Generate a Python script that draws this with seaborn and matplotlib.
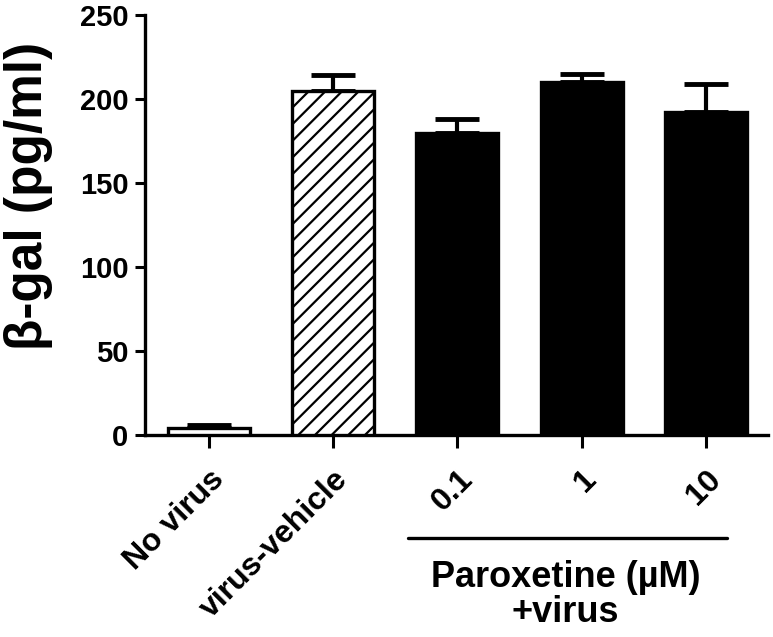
import numpy as np
import pandas as pd
import matplotlib
matplotlib.use("Agg")
import matplotlib.pyplot as plt
import seaborn as sns

# ---------------------------------------------------------------------------
# Data
# ---------------------------------------------------------------------------
groups = ["No virus", "virus-vehicle", "0.1", "1", "10"]
means = [4, 205, 180, 210, 192]
sems = [2, 9, 8, 5, 17]
fills = ["white", "white", "black", "black", "black"]
hatches = ["", "//", "", "", ""]

df = pd.DataFrame({"group": groups, "beta_gal": means})

# ---------------------------------------------------------------------------
# Style
# ---------------------------------------------------------------------------
sns.set_style("ticks")
plt.rcParams["font.family"] = ["Liberation Sans", "DejaVu Sans"]
plt.rcParams["font.weight"] = "bold"
plt.rcParams["hatch.linewidth"] = 1.6
plt.rcParams["text.color"] = "black"
plt.rcParams["axes.labelcolor"] = "black"
plt.rcParams["xtick.color"] = "black"
plt.rcParams["ytick.color"] = "black"

fig = plt.figure(figsize=(7.73, 6.37), dpi=100)
ax = fig.add_axes([0.1876, 0.317, 0.806, 0.6595])

sns.barplot(data=df, x="group", y="beta_gal", hue="group",
            palette=dict(zip(groups, fills)), legend=False,
            width=0.66, edgecolor="black", linewidth=2.4,
            errorbar=None, ax=ax, zorder=3)

for bar, h in zip(ax.patches, hatches):
    bar.set_hatch(h)

# upward-only error bars (SEM), drawn under the bars
xpos = np.arange(len(groups))
ax.errorbar(xpos, means, yerr=[np.zeros(len(sems)), sems], fmt="none",
            ecolor="black", elinewidth=3, capsize=16, capthick=3.5, zorder=2)

ax.set_xlim(-0.515, 4.5)
ax.set_ylim(0, 250)
ax.set_yticks([0, 50, 100, 150, 200, 250])
ax.set_xlabel("")
ax.set_ylabel("β-gal (pg/ml)", fontsize=37, fontweight="bold")
ax.yaxis.set_label_coords(-0.148, 0.57)

ax.tick_params(axis="y", labelsize=21, width=2.2, length=7, pad=5)
ax.tick_params(axis="x", labelsize=23, width=2.2, length=9, pad=12)
for lab in ax.get_yticklabels():
    lab.set_fontweight("bold")
ax.set_xticks(xpos)
ax.set_xticklabels(groups, rotation=45, ha="right", rotation_mode="anchor",
                   fontweight="bold")

for side in ["left", "bottom"]:
    ax.spines[side].set_linewidth(2.4)
    ax.spines[side].set_color("black")
sns.despine(ax=ax)

# bracket label under the paroxetine groups
ax.plot([1.6, 4.17], [-61.5, -61.5], color="black", lw=2.4, clip_on=False)
ax.text(2.87, -95, "Paroxetine (µM)\n+virus", ha="center", va="center",
        fontsize=26, fontweight="bold", linespacing=1.0)

fig.savefig("out.png", dpi=100)
